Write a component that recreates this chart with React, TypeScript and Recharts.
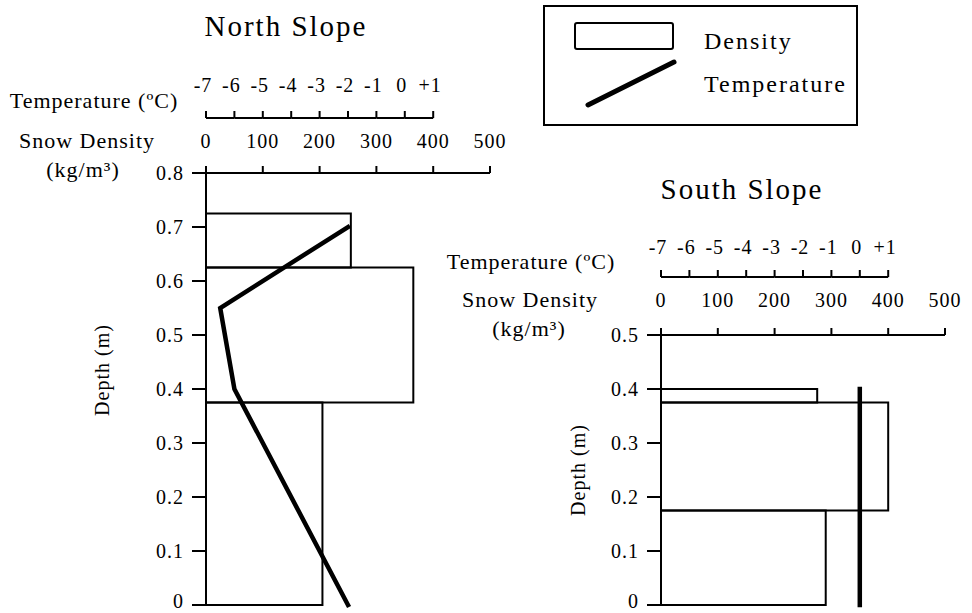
import { ComposedChart, XAxis, YAxis, Scatter, ReferenceArea } from 'recharts';

const FONT = '"Liberation Serif", "Times New Roman", serif';

// shared top axes
const densityTicks = [0, 100, 200, 300, 400, 500];
const tempTicks = [-7, -6, -5, -4, -3, -2, -1, 0, 1];
const tempDomain = [-7, 3]; // -7..+1 covers the 0..400 part of the density axis

// North slope
const northDepthTicks = [0, 0.1, 0.2, 0.3, 0.4, 0.5, 0.6, 0.7, 0.8];
const northLayers = [
  { bottom: 0, top: 0.375, density: 205 },
  { bottom: 0.375, top: 0.625, density: 365 },
  { bottom: 0.625, top: 0.725, density: 255 },
];
const northTemp = [
  { depth: 0.7, temp: -2 },
  { depth: 0.55, temp: -6.5 },
  { depth: 0.4, temp: -6 },
  { depth: 0, temp: -2 },
];

// South slope
const southDepthTicks = [0, 0.1, 0.2, 0.3, 0.4, 0.5];
const southLayers = [
  { bottom: 0, top: 0.175, density: 290 },
  { bottom: 0.175, top: 0.375, density: 400 },
  { bottom: 0.375, top: 0.4, density: 275 },
];
const southTemp = [
  { depth: 0.4, temp: 0 },
  { depth: 0, temp: 0 },
];

const legendItems = ['Density', 'Temperature'];

const TICK = 7;
const axisStroke = { stroke: '#000', strokeWidth: 2 };
const tickFont = { fill: '#000', fontSize: 20, fontFamily: FONT, letterSpacing: 1 };

const fmtTemp = (v: number) => (v > 0 ? `+${v}` : `${v}`);
const fmtDepth = (v: number) => (v === 0 ? '0' : v.toFixed(1));

// temperature axis line only runs from -7 to +1, so each tick draws its own piece of it
const TempTick = (props: any) => {
  const { x, y, payload, index, step, gap } = props;
  const lineY = y + gap + TICK;
  return (
    <g>
      <text x={x - 3} y={y} textAnchor="middle" style={tickFont}>
        {fmtTemp(payload.value)}
      </text>
      {index > 0 && (
        <line x1={x - step} x2={x} y1={lineY} y2={lineY} stroke="#000" strokeWidth={2} />
      )}
    </g>
  );
};

// depth labels; the bottom "0" is nudged up so it stays inside the picture
const DepthTick = (props: any) => {
  const { x, y, payload } = props;
  return (
    <text x={x} y={Math.min(y, 601)} dy="0.355em" textAnchor="end" style={tickFont}>
      {fmtDepth(payload.value)}
    </text>
  );
};

interface PanelProps {
  left: number;
  width: number;
  margin: { top: number; right: number; bottom: number; left: number };
  yWidth: number;
  densH: number;
  tempH: number;
  densGap: number;
  tempGap: number;
  depthTicks: number[];
  layers: { bottom: number; top: number; density: number }[];
  temps: { depth: number; temp: number }[];
  labelX: number;
  labelY: number;
}

const Panel = (p: PanelProps) => {
  const plotW = p.width - p.margin.left - p.margin.right - p.yWidth;
  const step = plotW / (tempDomain[1] - tempDomain[0]);
  const maxDepth = p.depthTicks[p.depthTicks.length - 1];
  const lx = p.labelX - p.left;

  return (
    <div style={{ position: 'absolute', left: p.left, top: 0 }}>
      <ComposedChart width={p.width} height={613} margin={p.margin} data={p.layers}>
        <XAxis
          xAxisId="d"
          type="number"
          dataKey="density"
          orientation="top"
          domain={[0, 500]}
          ticks={densityTicks}
          interval={0}
          height={p.densH}
          tickSize={TICK}
          tickMargin={p.densGap}
          axisLine={axisStroke}
          tickLine={axisStroke}
          tick={tickFont}
        />
        <XAxis
          xAxisId="t"
          type="number"
          dataKey="temp"
          orientation="top"
          domain={tempDomain}
          ticks={tempTicks}
          interval={0}
          height={p.tempH}
          tickSize={TICK}
          tickMargin={p.tempGap}
          axisLine={false}
          tickLine={axisStroke}
          tick={<TempTick step={step} gap={p.tempGap} />}
        />
        <YAxis
          type="number"
          dataKey="depth"
          domain={[0, maxDepth]}
          ticks={p.depthTicks}
          interval={0}
          width={p.yWidth}
          tickSize={14}
          tickMargin={8}
          axisLine={axisStroke}
          tickLine={axisStroke}
          tick={<DepthTick />}
          label={{
            content: () => (
              <text
                x={lx}
                y={p.labelY}
                transform={`rotate(-90 ${lx} ${p.labelY})`}
                textAnchor="middle"
                dominantBaseline="central"
                style={{ fill: '#000', fontSize: 20, fontFamily: FONT, letterSpacing: 1 }}
              >
                Depth (m)
              </text>
            ),
          }}
        />
        {p.layers.map((l, i) => (
          <ReferenceArea
            key={`layer-${i}`}
            xAxisId="d"
            x1={0}
            x2={l.density}
            y1={l.bottom}
            y2={l.top}
            fill="none"
            fillOpacity={0}
            stroke="#000"
            strokeWidth={2}
            ifOverflow="visible"
          />
        ))}
        <Scatter
          xAxisId="t"
          data={p.temps}
          line={{ stroke: '#000', strokeWidth: 4.5, strokeLinecap: 'square' }}
          shape={() => <g />}
          legendType="none"
          isAnimationActive={false}
        />
      </ComposedChart>
    </div>
  );
};

const Caption = ({ x, y, size, spacing, children }: any) => (
  <div
    style={{
      position: 'absolute',
      left: x,
      top: y,
      transform: 'translate(-50%, -50%)',
      whiteSpace: 'nowrap',
      fontFamily: FONT,
      fontSize: size,
      letterSpacing: spacing,
      lineHeight: 1,
      color: '#000',
    }}
  >
    {children}
  </div>
);

const Legend = () => (
  <svg
    width={315}
    height={121}
    style={{ position: 'absolute', left: 543, top: 5 }}
  >
    <rect x={1} y={1} width={313} height={119} fill="#fff" stroke="#000" strokeWidth={2} />
    <rect x={32} y={18} width={98} height={26} rx={2} fill="none" stroke="#000" strokeWidth={2} />
    <line x1={45} y1={100} x2={131} y2={57} stroke="#000" strokeWidth={5} strokeLinecap="round" />
    {legendItems.map((name, i) => (
      <text
        key={name}
        x={161}
        y={44 + i * 43}
        style={{ fill: '#000', fontSize: 24, fontFamily: FONT, letterSpacing: 2 }}
      >
        {name}
      </text>
    ))}
  </svg>
);

export default function App() {
  return (
    <div
      style={{
        position: 'absolute',
        left: 0,
        top: 0,
        width: 972,
        height: 613,
        background: '#fff',
        overflow: 'hidden',
      }}
    >
      <Panel
        left={0}
        width={520}
        margin={{ top: 58, right: 30, bottom: 8, left: 0 }}
        yWidth={206}
        densH={55}
        tempH={60}
        densGap={18}
        tempGap={19}
        depthTicks={northDepthTicks}
        layers={northLayers}
        temps={northTemp}
        labelX={102}
        labelY={370}
      />
      <Panel
        left={560}
        width={412}
        margin={{ top: 217, right: 27, bottom: 8, left: 0 }}
        yWidth={101}
        densH={58}
        tempH={60}
        densGap={21}
        tempGap={16}
        depthTicks={southDepthTicks}
        layers={southLayers}
        temps={southTemp}
        labelX={578}
        labelY={470}
      />

      <Caption x={286} y={26} size={29} spacing={2}>North Slope</Caption>
      <Caption x={94} y={101} size={22} spacing={1}>Temperature (ºC)</Caption>
      <Caption x={87} y={141} size={22} spacing={1}>Snow Density</Caption>
      <Caption x={83} y={170} size={22} spacing={1}>(kg/m³)</Caption>

      <Caption x={742} y={189} size={29} spacing={2}>South Slope</Caption>
      <Caption x={531} y={262} size={22} spacing={1}>Temperature (ºC)</Caption>
      <Caption x={530} y={300} size={22} spacing={1}>Snow Density</Caption>
      <Caption x={529} y={329} size={22} spacing={1}>(kg/m³)</Caption>

      <Legend />
    </div>
  );
}
